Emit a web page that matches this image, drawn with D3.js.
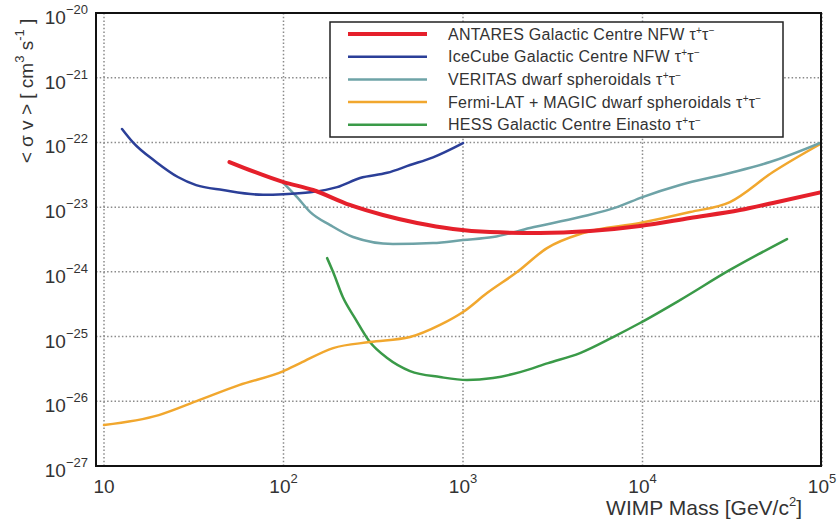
<!DOCTYPE html>
<html>
<head>
<meta charset="utf-8">
<script src="https://cdn.jsdelivr.net/npm/d3@7"></script>
<style>
  html, body { margin: 0; padding: 0; background: #fff; }
  svg { display: block; font-family: "Liberation Sans", Arial, Helvetica, sans-serif; }
</style>
</head>
<body>
<svg id="chart" width="838" height="524"></svg>
<script>
// ---- data (WIMP mass [GeV/c^2], <sigma v> [cm^3 s^-1]) ----
const seriesNames = [
  "ANTARES Galactic Centre NFW",
  "IceCube Galactic Centre NFW",
  "VERITAS dwarf spheroidals",
  "Fermi-LAT + MAGIC dwarf spheroidals",
  "HESS Galactic Centre Einasto"
];
const seriesColors = ["#e5202b", "#2b3f98", "#6ea3a7", "#f1a72e", "#3a9a48"];

const antares = [
  [50, 4.98e-23], [100, 2.44e-23], [146, 1.84e-23], [234, 1.08e-23], [358, 7.55e-24],
  [555, 5.68e-24], [879, 4.59e-24], [1413, 4.12e-24], [2685, 3.98e-24], [5105, 4.27e-24],
  [9683, 5.11e-24], [18400, 6.79e-24], [34900, 9.02e-24], [53300, 1.16e-23], [100000, 1.71e-23]
];
const icecube = [
  [12.6, 1.61e-22], [14.5, 1.0e-22], [19.5, 5.0e-23], [25.8, 2.92e-23], [32.6, 2.19e-23],
  [46.0, 1.84e-23], [76.9, 1.55e-23], [100, 1.58e-23], [141, 1.70e-23], [199, 2.04e-23],
  [267, 2.82e-23], [378, 3.39e-23], [507, 4.47e-23], [681, 5.89e-23], [1000, 9.77e-23]
];
const veritas = [
  [100, 2.36e-23], [119, 1.43e-23], [141, 8.39e-24], [182, 5.28e-24], [244, 3.45e-24],
  [407, 2.69e-24], [681, 2.79e-24], [1000, 3.10e-24], [1469, 3.45e-24], [2360, 4.75e-24],
  [4487, 7.03e-24], [7211, 1.0e-23], [10000, 1.43e-23], [16180, 2.20e-23], [30690, 3.37e-23],
  [51290, 4.98e-23], [100000, 1.01e-22]
];
const fermiMagic = [
  [10, 4.29e-27], [20.2, 6.12e-27], [33.8, 1.04e-26], [56.5, 1.78e-26], [100, 2.93e-26],
  [124, 3.89e-26], [189, 6.64e-26], [303, 8.22e-26], [507, 9.82e-26], [745, 1.51e-25],
  [1000, 2.39e-25], [1361, 4.70e-25], [2000, 9.93e-25], [2938, 2.33e-24], [4667, 3.98e-24],
  [9683, 5.68e-24], [18400, 8.39e-24], [30690, 1.20e-23], [53300, 3.49e-23], [100000, 9.79e-23]
];
const hess = [
  [175, 1.63e-24], [189, 9.93e-25], [214, 4.08e-25], [250, 1.93e-25], [303, 8.22e-26],
  [378, 4.66e-26], [507, 2.93e-26], [745, 2.37e-26], [1052, 2.13e-26], [1469, 2.29e-26],
  [2080, 2.82e-26], [2979, 3.89e-26], [4487, 5.56e-26], [6855, 9.82e-26], [9683, 1.62e-25],
  [16180, 3.66e-25], [30690, 1.07e-24], [63830, 3.21e-24]
];
const seriesData = [antares, icecube, veritas, fermiMagic, hess];
const seriesWidths = [4, 2.5, 2.5, 2.5, 2.5];

const xTickValues = [10, 100, 1000, 10000, 100000];
const xTickExps = ["", "2", "3", "4", "5"];
const yTickValues = [1e-20, 1e-21, 1e-22, 1e-23, 1e-24, 1e-25, 1e-26, 1e-27];
const yTickExps = ["\u221220", "\u221221", "\u221222", "\u221223", "\u221224", "\u221225", "\u221226", "\u221227"];

// ---- layout ----
const svg = d3.select("#chart");
const frame = { left: 96, right: 821, top: 13, bottom: 466 };
const x = d3.scaleLog().domain([10, 100000]).range([104, 822]);
const y = d3.scaleLog().domain([1e-27, 1e-20]).range([frame.bottom, frame.top]);

// grid
const grid = svg.append("g");
xTickValues.forEach(v => {
  grid.append("line")
    .attr("x1", x(v)).attr("x2", x(v))
    .attr("y1", frame.top).attr("y2", frame.bottom)
    .attr("stroke", "#8a8a8a").attr("stroke-width", 1.5)
    .attr("stroke-dasharray", "1.5,2.2");
});
yTickValues.forEach(v => {
  grid.append("line")
    .attr("x1", frame.left).attr("x2", frame.right)
    .attr("y1", y(v)).attr("y2", y(v))
    .attr("stroke", "#8a8a8a").attr("stroke-width", 1.5)
    .attr("stroke-dasharray", "1.5,2.2");
});

// curves
const line = d3.line()
  .x(d => x(d[0])).y(d => y(d[1]))
  .curve(d3.curveMonotoneX);

svg.append("clipPath").attr("id", "plotclip")
  .append("rect").attr("x", frame.left).attr("y", frame.top)
  .attr("width", frame.right - frame.left).attr("height", frame.bottom - frame.top);

const curves = svg.append("g").attr("clip-path", "url(#plotclip)");
// draw order: HESS, Fermi, VERITAS, IceCube, ANTARES (red on top)
[4, 3, 2, 1, 0].forEach(i => {
  curves.append("path")
    .datum(seriesData[i])
    .attr("fill", "none")
    .attr("stroke", seriesColors[i])
    .attr("stroke-width", seriesWidths[i])
    .attr("stroke-linejoin", "round")
    .attr("stroke-linecap", "round")
    .attr("d", line);
});

// frame
svg.append("rect")
  .attr("x", frame.left).attr("y", frame.top)
  .attr("width", frame.right - frame.left).attr("height", frame.bottom - frame.top)
  .attr("fill", "none").attr("stroke", "#111").attr("stroke-width", 2);

// y tick labels
const yLab = svg.append("g").attr("fill", "#333");
yTickValues.forEach((v, i) => {
  const t = yLab.append("text")
    .attr("x", 88).attr("y", y(v) + 11)
    .attr("text-anchor", "end")
    .attr("font-size", 19);
  t.append("tspan").text("10");
  t.append("tspan").attr("dy", -10).attr("font-size", 13).text(yTickExps[i]);
});

// x tick labels
const xLab = svg.append("g").attr("fill", "#333");
xTickValues.forEach((v, i) => {
  const t = xLab.append("text")
    .attr("x", x(v)).attr("y", 493)
    .attr("text-anchor", "middle")
    .attr("font-size", 19);
  t.append("tspan").text("10");
  if (xTickExps[i]) t.append("tspan").attr("dy", -10).attr("font-size", 13).text(xTickExps[i]);
});

// axis titles
const xt = svg.append("text")
  .attr("x", 802).attr("y", 515)
  .attr("text-anchor", "end").attr("font-size", 21).attr("fill", "#333");
xt.append("tspan").text("WIMP Mass [GeV/c");
xt.append("tspan").attr("dy", -9).attr("font-size", 13).text("2");
xt.append("tspan").attr("dy", 9).text("]");

const yt = svg.append("text")
  .attr("transform", "translate(33,91) rotate(-90)")
  .attr("text-anchor", "middle").attr("font-size", 19).attr("fill", "#333");
yt.append("tspan").text("< \u03c3 v > [ cm");
yt.append("tspan").attr("dy", -9).attr("font-size", 13).text("3");
yt.append("tspan").attr("dy", 9).text(" s");
yt.append("tspan").attr("dy", -9).attr("font-size", 13).text("-1");
yt.append("tspan").attr("dy", 9).text(" ]");

// legend
const lg = svg.append("g");
lg.append("rect")
  .attr("x", 330).attr("y", 22).attr("width", 453).attr("height", 115)
  .attr("fill", "#fff").attr("stroke", "#222").attr("stroke-width", 1.5);
seriesNames.forEach((name, i) => {
  const cy = 34 + i * 22.7;
  lg.append("line")
    .attr("x1", 348).attr("x2", 427).attr("y1", cy).attr("y2", cy)
    .attr("stroke", seriesColors[i]).attr("stroke-width", seriesWidths[i]);
  const t = lg.append("text")
    .attr("x", 448).attr("y", cy + 5.5)
    .attr("font-size", 16).attr("letter-spacing", 0.25).attr("fill", "#333");
  t.append("tspan").text(name + " \u03c4");
  t.append("tspan").attr("dy", -6).attr("font-size", 10).text("+");
  t.append("tspan").attr("dy", 6).text("\u03c4");
  t.append("tspan").attr("dy", -6).attr("font-size", 10).text("\u2212");
});
</script>
</body>
</html>
